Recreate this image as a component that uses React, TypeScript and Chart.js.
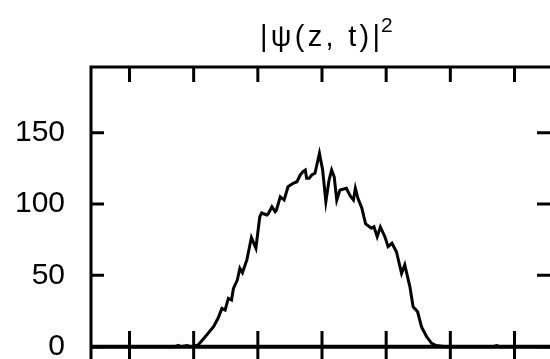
import React, { useEffect, useRef } from "react";
import { Chart, registerables } from "chart.js";

Chart.register(...registerables);

// position z (axis has unlabeled ticks at -3 .. 3)
const zValues = [
  -3.6, -2.68, -2.29, -2.24, -2.2, -2.1, -2.06, -1.98, -1.93, -1.82,
  -1.69, -1.62, -1.56, -1.51, -1.46, -1.41, -1.38, -1.32, -1.28, -1.24,
  -1.17, -1.1, -1.03, -0.97, -0.94, -0.86, -0.84, -0.78, -0.73, -0.71,
  -0.65, -0.59, -0.53, -0.45, -0.39, -0.34, -0.3, -0.26, -0.24, -0.2,
  -0.16, -0.11, -0.04, 0.01, 0.06, 0.11, 0.15, 0.19, 0.23, 0.28,
  0.38, 0.44, 0.49, 0.52, 0.56, 0.62, 0.68, 0.77, 0.81, 0.86,
  0.91, 0.98, 1.03, 1.09, 1.16, 1.24, 1.29, 1.37, 1.42, 1.49,
  1.55, 1.63, 1.71, 1.78, 1.84, 1.93, 2.67, 2.72, 2.77, 3.6,
];

// |psi(z,t)|^2
const psiSquared = [
  0, 0, 0, 1, 0, 0.8, 0, 0.5, 1.2, 7.0,
  14.0, 19.9, 26.9, 25.7, 33.9, 32.7, 40.9, 46.7, 54.9, 51.9,
  61, 76.5, 69, 91.1, 93.7, 92.3, 93, 98.1, 94.6, 95.8,
  105, 102.8, 112.1, 114.5, 115.6, 120.3, 122.6, 123.8, 118, 118,
  120.3, 121.5, 135.5, 123.8, 101.6, 116.8, 123.8, 119.1, 102.8, 109.8,
  111.0, 105.6, 102.8, 111.0, 104.0, 97.2, 86, 83.0, 84.1, 77.1,
  83.9, 77.1, 70.1, 72.5, 66.6, 51.4, 57.3, 42.0, 28.0, 24.5,
  14.0, 7.0, 2.4, 0.8, 0.5, 0, 0, 0.8, 0, 0,
];

const yTickValues = [0, 50, 100, 150];
const xTickValues = [-3, -2, -1, 0, 1, 2, 3];
const titleMain = "|ψ(z, t)|";
const titleSup = "2";

const CANVAS_W = 560;
const CANVAS_H = 375;

const framePlugin = {
  id: "gnuplotFrame",
  afterDraw(chart: any) {
    const { ctx, chartArea, scales } = chart;
    const { left, right, top, bottom } = chartArea;
    const x = scales.x;
    const y = scales.y;
    ctx.save();
    ctx.strokeStyle = "#000";
    ctx.lineWidth = 3;
    ctx.lineCap = "butt";
    ctx.strokeRect(left, top, right - left, bottom - top);
    ctx.beginPath();
    for (const v of xTickValues) {
      const px = x.getPixelForValue(v);
      ctx.moveTo(px, top);
      ctx.lineTo(px, top + 15);
      ctx.moveTo(px, bottom);
      ctx.lineTo(px, bottom - 30);
    }
    for (const v of yTickValues) {
      const py = y.getPixelForValue(v);
      ctx.moveTo(left, py);
      ctx.lineTo(left + 13, py);
      ctx.moveTo(right, py);
      ctx.lineTo(right - 16, py);
    }
    ctx.stroke();
    // zero axis
    ctx.lineWidth = 4;
    ctx.beginPath();
    const p0 = y.getPixelForValue(0);
    ctx.moveTo(left, p0);
    ctx.lineTo(right, p0);
    ctx.stroke();

    // title
    ctx.fillStyle = "#000";
    ctx.textBaseline = "alphabetic";
    ctx.textAlign = "left";
    ctx.font = "29px 'Liberation Sans', Arial, sans-serif";
    const measured = ctx.measureText(titleMain).width;
    const target = 120;
    const ls = (target - measured) / (titleMain.length - 1);
    if ("letterSpacing" in ctx) (ctx as any).letterSpacing = `${Math.max(0, ls)}px`;
    ctx.fillText(titleMain, 260, 46);
    if ("letterSpacing" in ctx) (ctx as any).letterSpacing = "0px";
    ctx.font = "21px 'Liberation Sans', Arial, sans-serif";
    ctx.fillText(titleSup, 381, 32);
    ctx.restore();
  },
};

export default function App() {
  const canvasRef = useRef<HTMLCanvasElement | null>(null);

  useEffect(() => {
    const canvas = canvasRef.current;
    if (!canvas) return;
    const chart = new Chart(canvas, {
      type: "line",
      data: {
        datasets: [
          {
            data: zValues.map((z, i) => ({ x: z, y: psiSquared[i] })),
            borderColor: "#000",
            borderWidth: 3,
            pointRadius: 0,
            tension: 0,
            fill: false,
          },
        ],
      },
      options: {
        animation: false,
        responsive: false,
        devicePixelRatio: 1,
        layout: { padding: { top: 67, left: 0, right: 7, bottom: 14 } },
        plugins: {
          legend: { display: false },
          title: { display: false },
          tooltip: { enabled: false },
        },
        scales: {
          x: {
            type: "linear",
            min: -3.6,
            max: 3.6,
            display: false,
          },
          y: {
            type: "linear",
            min: -10,
            max: 196,
            afterBuildTicks: (scale: any) => {
              scale.ticks = yTickValues.map((v) => ({ value: v }));
            },
            afterFit: (scale: any) => {
              scale.width = 91;
              scale.paddingTop = 0;
              scale.paddingBottom = 0;
            },
            grid: { display: false, drawTicks: false },
            border: { display: false },
            ticks: {
              color: "#000",
              padding: 26,
              font: { family: "'Liberation Sans', Arial, sans-serif", size: 30 },
            },
          },
        },
      },
      plugins: [framePlugin],
    });
    return () => chart.destroy();
  }, []);

  return (
    <div
      style={{
        position: "absolute",
        left: 0,
        top: 0,
        width: 550,
        height: 359,
        overflow: "hidden",
        background: "#fff",
      }}
    >
      <canvas
        ref={canvasRef}
        width={CANVAS_W}
        height={CANVAS_H}
        style={{ width: CANVAS_W, height: CANVAS_H, display: "block" }}
      />
    </div>
  );
}
